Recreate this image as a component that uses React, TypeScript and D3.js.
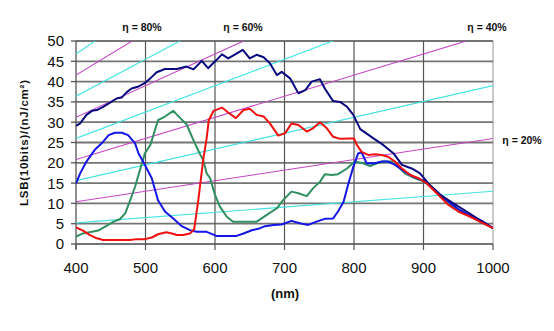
import React from "react";
import * as d3 from "d3";

const W = 554;
const H = 331;

const xTicks = [400, 500, 600, 700, 800, 900, 1000];
const yTicks = [0, 5, 10, 15, 20, 25, 30, 35, 40, 45, 50];

const navyWl = [400, 406, 415, 423, 430, 439, 449, 459, 466, 473, 480, 490, 499, 507, 516, 528, 545, 559, 569, 581, 590, 602, 610, 619, 629, 640, 650, 660, 670, 679, 689, 696, 708, 720, 730, 739, 751, 758, 770, 780, 790, 799, 809, 828, 842, 857, 869, 883, 895, 907, 924, 943, 962, 981, 1000];
const navyVal = [29.1, 29.7, 31.8, 32.8, 33, 33.8, 34.8, 35.9, 36.1, 37.4, 38.3, 38.8, 39.6, 40.8, 42.3, 43.1, 43.1, 43.7, 43, 45.1, 43.3, 45.3, 46.7, 45.7, 46.7, 47.8, 45.7, 46.6, 46, 44.5, 41.6, 42.4, 40.8, 37.1, 37.9, 40, 40.6, 38.3, 35.2, 35, 33.8, 31.8, 28.3, 26, 24.4, 22.3, 19.5, 18.6, 17.4, 14.9, 12.1, 10, 8, 5.9, 3.9];

const redWl = [400, 410, 420, 430, 439, 454, 478, 487, 499, 509, 518, 530, 538, 545, 554, 564, 570, 576, 583, 588, 591, 598, 610, 619, 630, 641, 650, 660, 670, 679, 691, 701, 710, 720, 732, 741, 751, 761, 770, 780, 792, 800, 804, 811, 821, 830, 840, 849, 859, 869, 881, 893, 905, 919, 936, 950, 965, 981, 1000];
const redVal = [4.1, 3.3, 2.2, 1.4, 1, 1, 1, 1.2, 1.2, 1.6, 2.4, 2.9, 2.6, 2.2, 2.2, 2.6, 3.6, 10.8, 20.7, 26, 30.5, 32.8, 33.6, 32.4, 31, 33, 33.3, 31.8, 31.4, 29.7, 26.7, 27.3, 29.7, 29.3, 27.7, 28.5, 30, 28.5, 26.4, 25.9, 26, 26, 24.4, 22.7, 21.9, 22.1, 21.9, 21.5, 20.3, 18.6, 17, 16.2, 14.9, 12.5, 9.6, 8, 6.9, 5.5, 3.9];

const blueWl = [400, 406, 415, 427, 437, 447, 456, 466, 475, 485, 490, 499, 509, 518, 528, 540, 552, 564, 574, 588, 602, 631, 641, 653, 665, 672, 684, 696, 710, 722, 734, 746, 758, 770, 777, 785, 792, 799, 806, 811, 818, 830, 840, 849, 859, 870, 885, 900, 915, 930, 950, 970, 985, 1000];
const blueVal = [14.9, 17.4, 20.3, 23.2, 24.8, 26.8, 27.4, 27.4, 26.8, 24.8, 22.3, 19.5, 16.2, 10.8, 8, 6.3, 4.4, 3.4, 3, 3, 2, 2, 2.6, 3.4, 3.9, 4.4, 4.7, 4.8, 5.7, 5.1, 4.7, 5.5, 6.2, 6.3, 8, 10.4, 14.9, 19, 22.3, 22.6, 19.9, 19.9, 20.3, 20.3, 19.5, 18.2, 16.6, 15.6, 13.6, 11.2, 8.6, 6.8, 5.6, 3.9];

const greenWl = [400, 410, 423, 432, 442, 454, 463, 471, 478, 485, 492, 499, 507, 518, 528, 540, 550, 559, 571, 578, 583, 588, 593, 600, 607, 617, 626, 641, 660, 674, 689, 698, 710, 720, 732, 741, 751, 758, 768, 777, 790, 801, 813, 823, 833, 842, 854, 864, 873, 888, 902, 918, 935, 950, 965, 981, 1000];
const greenVal = [1.8, 2.6, 3, 3.3, 4.3, 5.5, 6.1, 7.6, 10.8, 14.1, 18.2, 22.3, 24.4, 30.5, 31.4, 32.8, 31, 29.5, 24.8, 22.3, 20.7, 17.4, 16.2, 12.1, 9.2, 6.7, 5.5, 5.5, 5.5, 7.1, 8.8, 10.8, 12.9, 12.5, 11.8, 13.7, 15.3, 17.2, 17, 17.2, 18.6, 20.3, 19.9, 19.2, 19.9, 20.3, 20.3, 19, 17.4, 16.2, 15.3, 13, 10, 8.3, 7, 5.6, 3.9];

const cyanEtas = [10, 30, 50, 70, 90];
const magentaEtas = [20, 40, 60, 80];
// LSB/(nJ/cm²) per nm at 100% quantum efficiency
const K = 0.13;

const etaLabels = [
  { text: "η = 80%", x: 142, y: 31 },
  { text: "η = 60%", x: 243, y: 31 },
  { text: "η = 40%", x: 487, y: 31 },
  { text: "η = 20%", x: 522, y: 144 },
];

export default function App() {
  const left = 76;
  const right = 493;
  const top = 41;
  const bottom = 244;
  const x = d3.scaleLinear().domain([400, 1000]).range([left, right]);
  const y = d3.scaleLinear().domain([0, 50]).range([bottom, top]);

  const line = d3
    .line<[number, number]>()
    .x((d) => x(d[0]))
    .y((d) => y(d[1]));

  const zip = (a: number[], b: number[]) => a.map((v, i) => [v, b[i]] as [number, number]);

  const etaLine = (eta: number) =>
    line([
      [400, (K * eta * 400) / 100],
      [1000, (K * eta * 1000) / 100],
    ]) || "";

  const series = [
    { d: zip(greenWl, greenVal), c: "#2f8f5f" },
    { d: zip(blueWl, blueVal), c: "#1515e6" },
    { d: zip(navyWl, navyVal), c: "#0a0a80" },
    { d: zip(redWl, redVal), c: "#f01010" },
  ];

  const font = "Arial, 'Liberation Sans', sans-serif";

  return (
    <svg
      width={W}
      height={H}
      style={{ position: "absolute", left: 0, top: 0, background: "#fff" }}
      fontFamily={font}
    >
      <defs>
        <clipPath id="plot">
          <rect x={left} y={top} width={right - left} height={bottom - top} />
        </clipPath>
      </defs>
      <rect x={0} y={0} width={W} height={H} fill="#fff" />
      <line x1={right} x2={right} y1={top} y2={bottom} stroke="#b8b8b8" strokeWidth={1.5} />
      {yTicks.map((t) => (
        <line key={"h" + t} x1={left} x2={right} y1={y(t)} y2={y(t)} stroke="#747474" strokeWidth={1.8} />
      ))}
      {xTicks.slice(1, -1).map((t) => (
        <line key={"v" + t} x1={x(t)} x2={x(t)} y1={top} y2={bottom} stroke="#555" strokeWidth={1.2} />
      ))}
      <line x1={left} x2={left} y1={top} y2={bottom + 5} stroke="#555" strokeWidth={1.3} />
      {yTicks.map((t) => (
        <line key={"yt" + t} x1={left - 5} x2={left} y1={y(t)} y2={y(t)} stroke="#555" strokeWidth={1.3} />
      ))}
      {xTicks.map((t) => (
        <line key={"xt" + t} x1={x(t)} x2={x(t)} y1={bottom} y2={bottom + 6} stroke="#555" strokeWidth={1.2} />
      ))}
      <g clipPath="url(#plot)">
        {cyanEtas.map((e) => (
          <path key={"c" + e} d={etaLine(e)} fill="none" stroke="#45e3e3" strokeWidth={1.1} />
        ))}
        {magentaEtas.map((e) => (
          <path key={"m" + e} d={etaLine(e)} fill="none" stroke="#c545c5" strokeWidth={1.1} />
        ))}
        {series.map((s, i) => (
          <path key={"s" + i} d={line(s.d) || ""} fill="none" stroke={s.c} strokeWidth={2} strokeLinejoin="round" />
        ))}
      </g>
      {yTicks.map((t) => (
        <text key={"yl" + t} x={64} y={y(t)} dy="0.36em" textAnchor="end" fontSize={15} fill="#111">
          {t}
        </text>
      ))}
      {xTicks.map((t) => (
        <text key={"xl" + t} x={x(t)} y={273} textAnchor="middle" fontSize={15} fill="#111">
          {t}
        </text>
      ))}
      <text x={285} y={298} textAnchor="middle" fontSize={13} fontWeight="bold" fill="#111">
        (nm)
      </text>
      <text
        transform={`translate(28,143) rotate(-90)`}
        textAnchor="middle"
        fontSize={11.5}
        fontWeight="bold"
        fill="#111"
        textLength={126}
        lengthAdjust="spacing"
      >
        LSB(10bits)/(nJ/cm²)
      </text>
      {etaLabels.map((l) => (
        <text key={l.text} x={l.x} y={l.y} textAnchor="middle" fontSize={10.5} fontWeight="bold" fill="#111">
          {l.text}
        </text>
      ))}
    </svg>
  );
}
